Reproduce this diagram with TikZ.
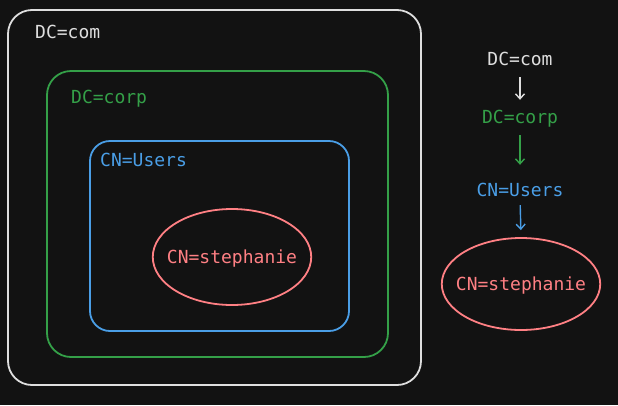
\documentclass[tikz,border=0pt]{standalone}
\usepackage{fontspec}
\setmonofont{DejaVu Sans Mono}
\usepackage{tikz}
\usetikzlibrary{arrows.meta,positioning,shapes.geometric}
\definecolor{ldbg}{RGB}{18,18,18}
\definecolor{ldwhite}{RGB}{222,222,222}
\definecolor{ldgreen}{RGB}{52,160,72}
\definecolor{ldblue}{RGB}{74,158,230}
\definecolor{ldred}{RGB}{255,128,132}
\tikzset{
  dnbox/.style={
    rectangle, rounded corners=24pt, draw=#1, line width=1.8pt,
    inner sep=0pt
  },
  dnlabel/.style={
    text=#1, font=\ttfamily\fontsize{18}{20}\selectfont,
    inner sep=0pt, text height=13pt, text depth=0pt
  },
  dnleaf/.style={
    ellipse, draw=ldred, line width=1.8pt, inner xsep=-9pt, inner ysep=0pt,
    text height=13pt, text depth=0pt,
    text=ldred, font=\ttfamily\fontsize{18}{20}\selectfont
  },
  dnarrow/.style={-{Straight Barb[length=5pt,width=9pt]}, line width=1.4pt, #1}
}
\begin{document}
\begin{tikzpicture}[x=1pt, y=-1pt]
  \fill[ldbg] (0,0) rectangle (618,405);
  \useasboundingbox (0,0) rectangle (618,405);

  % Nested containers
  \node[dnbox=ldwhite, minimum width=413pt, minimum height=375pt] (com) at (214.5,197.5) {};
  \node[dnbox=ldgreen, minimum width=341pt, minimum height=286pt] (corp) at (217.5,214) {};
  \node[dnbox=ldblue, rounded corners=20pt, minimum width=259pt, minimum height=190pt] (users) at (219.5,236) {};
  \node[dnleaf, minimum height=96pt] (steph) at (232,257) {CN=stephanie};

  \node[dnlabel=ldwhite, anchor=west] (comlbl) at (35,32) {DC=com};
  \node[dnlabel=ldgreen, anchor=west] (corplbl) at (71,97) {DC=corp};
  \node[dnlabel=ldblue, anchor=west] (userslbl) at (100,160) {CN=Users};

  % Path view
  \node[dnlabel=ldwhite] (pcom) at (520,59) {DC=com};
  \node[dnlabel=ldgreen] (pcorp) at (520,117) {DC=corp};
  \node[dnlabel=ldblue] (pusers) at (520,190) {CN=Users};
  \node[dnleaf, minimum height=92pt] (psteph) at (521,284) {CN=stephanie};

  \draw[dnarrow=ldwhite, shorten <=11.5pt, shorten >=10.5pt] (pcom.south) -- (pcorp.north);
  \draw[dnarrow=ldgreen, shorten <=11.5pt, shorten >=18.5pt] (pcorp.south) -- (pusers.north);
  \draw[dnarrow=ldblue, shorten <=8.5pt, shorten >=7pt] (pusers.south) -- (psteph.north);
\end{tikzpicture}
\end{document}
